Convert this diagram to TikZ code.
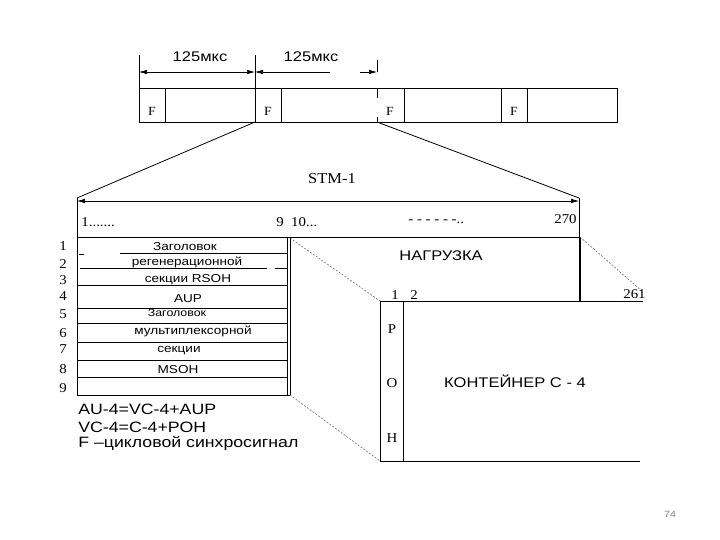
\documentclass[tikz,border=0pt]{standalone}
\usepackage{fontspec}
\setmainfont{Liberation Serif}[FakeStretch=1.1]
\newfontfamily\cyrsans[FakeStretch=1.18]{Liberation Sans}
\usetikzlibrary{arrows, arrows.meta, positioning}
\newcommand{\tabl}{77}
\newcommand{\tabr}{287}
\tikzstyle{serifnum} = [% serif number node
  inner sep=0pt,
  anchor=base,
  font=\fontsize{13.5}{13.5}\selectfont
  ]
\tikzstyle{sanstext} = [% sans caption node
  inner sep=0pt,
  anchor=base,
  font=\cyrsans\fontsize{14}{14}\selectfont
  ]
\tikzstyle{celltext} = [% text in overhead rows
  inner sep=0pt,
  anchor=base,
  font=\cyrsans\fontsize{11.5}{11.5}\selectfont
  ]
\tikzstyle{legend} = [% legend line
  inner sep=0pt,
  anchor=base west,
  font=\cyrsans\fontsize{15}{15}\selectfont
  ]
\tikzstyle{dimarrow} = [% dimension arrow
  line width=0.6pt,
  >={Latex[length=8pt,width=4.5pt]}
  ]
\tikzstyle{zoomline} = [% dashed map line
  line width=0.5pt,
  dash pattern=on 2pt off 1.5pt,
  black!65
  ]

\begin{document}
\begin{tikzpicture}[x=1pt, y=-1pt, line width=0.8pt]
\useasboundingbox (0,0) rectangle (720,540);

%%% Frame sequence
\coordinate (frNW) at (139,88);
\coordinate (frSE) at (617,122);
\coordinate (frA) at (255,122);
\coordinate (frB) at (377,122);
\draw (frNW) rectangle (frSE);
\foreach \x in {165,281,404,501,527} \draw (\x,88) -- (\x,122);
\draw (377,88) -- (377,98) (377,117) -- (frB);
\foreach \x/\n in {152/1,268/2,390/3,514/4}
  \node[serifnum, font=\fontsize{12.5}{12.5}\selectfont] (f\n) at (\x,116) {F};

%%% Cycle length
\coordinate (dimA) at (139,55);
\coordinate (dimB) at (255,55);
\coordinate (dimC) at (377,60);
\coordinate (dimD) at (377,72);
\draw (dimA) -- (frNW);
\draw (dimB) -- (frA);
\draw (dimC) -- (dimD);
\draw[dimarrow, <->] (139,72) -- (255,72);
\draw[dimarrow, <-] (255,72) -- (330,72);
\draw[dimarrow, ->] (360,72) -- (dimD);
\node[sanstext] (cyc1) at (200,62) {125мкс};
\node[sanstext] (cyc2) at (311,62) {125мкс};

%%% STM-1 frame
\coordinate (stmNW) at (\tabl,198);
\coordinate (stmNE) at (579,198);
\draw (frA) -- (stmNW);
\draw (frB) -- (stmNE);
\node[serifnum, font=\fontsize{15}{15}\selectfont] (stm) at (332,184) {STM-1};
\draw[dimarrow, <->] (\tabl,201) -- (579,201);
\draw (stmNW) -- (\tabl,395);
\draw (stmNE) -- (579,301);
\draw (\tabl,237) -- (580,237);
\node[serifnum, anchor=base west] (col1) at (81,226) {1.......};
\node[serifnum, anchor=base west] (col9) at (276,226) {9\ \ 10...};
\node[serifnum, anchor=base west] (coldots) at (408,223) {- - - - - -..};
\node[serifnum, anchor=base east] (col270) at (577,224) {270};

%%% Overhead rows
\draw (\tabr,237) -- (\tabr,395);
\draw (290,237) -- (290,395);
\draw (\tabl,395) -- (290,395);
\draw (79,254) -- (84,254);
\draw (120,253) -- (\tabr,253);
\draw (80,268) -- (267,268) (275,268) -- (\tabr,268);
\foreach \y in {285,308,323,342,360,377}
  \draw (\tabl,\y) -- (\tabr,\y);
\foreach \y/\n in {251/1,268/2,284/3,300/4,318/5,337/6,353/7,373/8,392/9}
  \node[serifnum] (row\n) at (63,\y) {\n};
\node[celltext] (rs1) at (185,250) {Заголовок};
\node[celltext] (rs2) at (187,265) {регенерационной};
\node[celltext] (rs3) at (188,282) {секции RSOH};
\node[celltext] (aup) at (188,302) {AUP};
\node[celltext, font=\cyrsans\fontsize{10.5}{10.5}\selectfont] (ms1) at (177,316) {Заголовок};
\node[celltext] (ms2) at (193,334) {мультиплексорной};
\node[celltext] (ms3) at (179,352) {секции};
\node[celltext] (msoh) at (178,373) {MSOH};

%%% Payload and container
\coordinate (payNE) at (580,237);
\coordinate (conNW) at (380,301);
\coordinate (conNE) at (643,301);
\coordinate (conSW) at (380,461);
\coordinate (conSE) at (640,461);
\draw (payNE) -- (580,301);
\node[sanstext] (load) at (441,260) {НАГРУЗКА};
\draw (conNE) -- (conNW) -- (conSW) -- (conSE);
\draw (403,301) -- (403,461);
\draw[zoomline] (290,238) -- (conNW);
\draw[zoomline] (payNE) -- (643,292);
\draw[zoomline] (290,395) -- (conSW);
\node[serifnum] (pos1) at (395,299) {1};
\node[serifnum] (pos2) at (414,299) {2};
\node[serifnum, anchor=base east] (pos261) at (646,298) {261};
\foreach \y/\c in {333/P,387/O,442/H}
  \node[serifnum] (poh\c) at (392,\y) {\c};
\node[sanstext] (cont) at (515,387) {КОНТЕЙНЕР С - 4};

%%% Legend
\node[legend] (leg1) at (78,414) {AU-4=VC-4+AUP};
\node[legend] (leg2) at (78,432) {VC-4=C-4+POH};
\node[legend] (leg3) at (78,447) {F –цикловой синхросигнал};
\node[sanstext, font=\cyrsans\fontsize{9}{9}\selectfont, black!50] (page) at (670,517) {74};

\end{tikzpicture}
\end{document}
